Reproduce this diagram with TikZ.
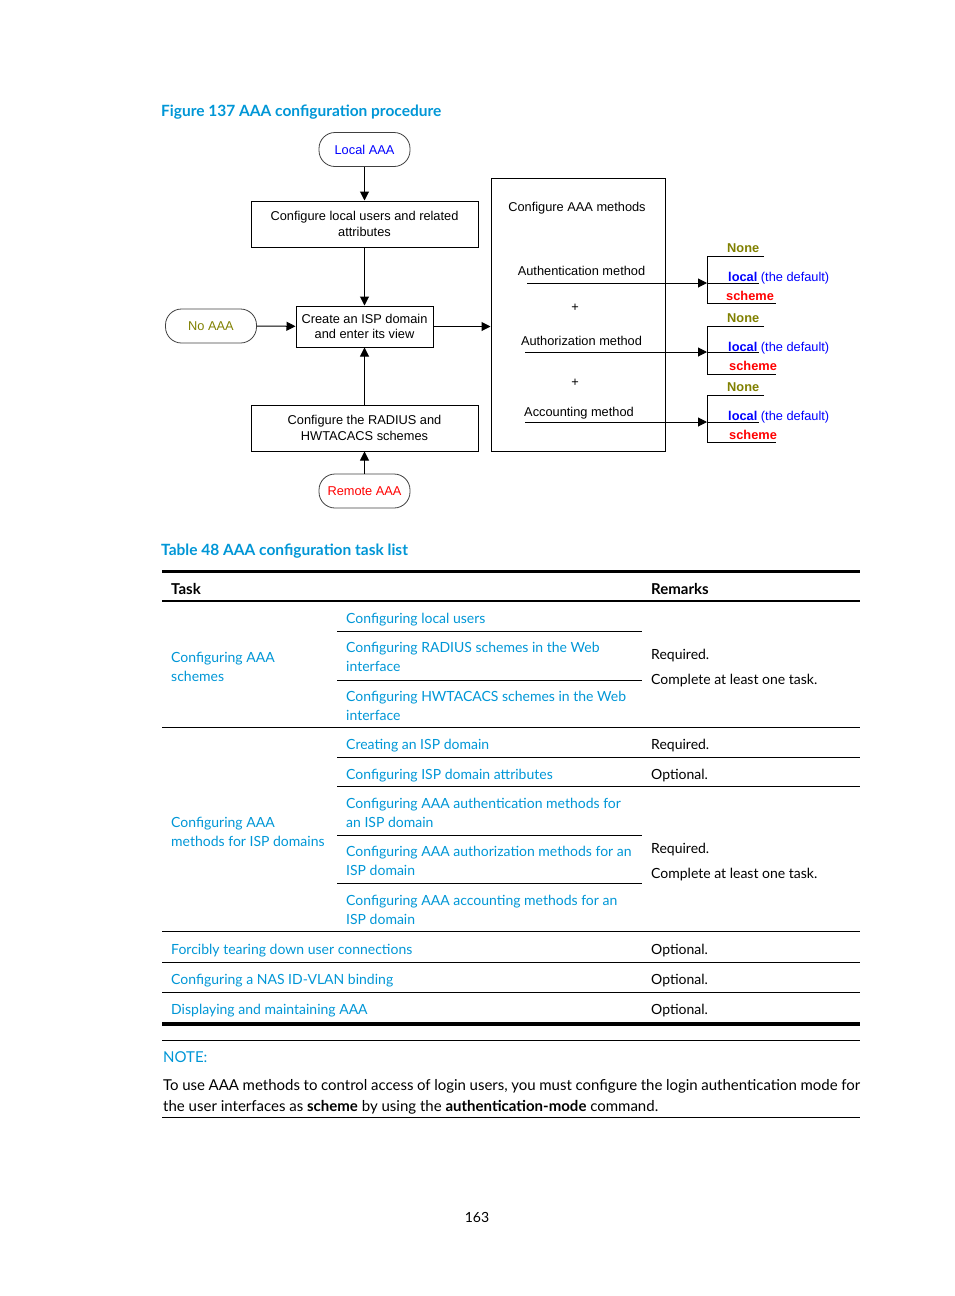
\documentclass[tikz,border=0pt]{standalone}
\usepackage{fontspec}
\setmainfont{Liberation Sans}
\newfontfamily\tblfam{Lato}
\usetikzlibrary{arrows.meta}
\definecolor{hpblue}{RGB}{0,150,214}
\definecolor{dblue}{RGB}{0,0,255}
\definecolor{dolive}{RGB}{128,128,0}
\definecolor{dred}{RGB}{255,0,0}
\newcommand\dgfont{\fontsize{12.8}{15.5}\selectfont}
\newcommand\dgfontb{\fontsize{12.8}{15}\selectfont}
\newcommand\tbfont{\tblfam\fontsize{14}{19}\selectfont}
\newcommand\hdfont{\tblfam\bfseries\fontsize{15}{19}\selectfont}
\newcommand\ttlfont{\tblfam\bfseries\fontsize{15.5}{19}\selectfont}
\newcommand\ntfont{\tblfam\fontsize{15}{19}\selectfont}
\begin{document}
\begin{tikzpicture}[x=1pt,y=-1pt,
  arr/.style={-{Triangle[length=9pt,width=9pt]}, line width=1pt},
  box/.style={draw, line width=1pt, inner sep=0pt, align=center, font=\dgfont},
  term/.style={draw=black!75, line width=0.8pt, rounded corners=16pt, inner sep=0pt, minimum width=91pt, minimum height=34pt, font=\dgfont},
  dtxt/.style={anchor=base, inner sep=0pt, font=\dgfont},
  opt/.style={anchor=base west, inner sep=0pt, font=\dgfont\bfseries},
  tt/.style={anchor=base west, inner sep=0pt, font=\tbfont, text=hpblue},
  tr/.style={anchor=base west, inner sep=0pt, font=\tbfont, text=black},
  rule/.style={line width=1.2pt},
  thin/.style={line width=0.9pt}]
\useasboundingbox (0,0) rectangle (954,1296);

% ---------- Figure title
\node[anchor=base west, inner sep=0pt, font=\ttlfont, text=hpblue] (ftitle) at (161,116) {Figure 137 AAA configuration procedure};

% ---------- left flow
\node[term, text=dblue] (local) at (364.5,149.5) {Local AAA};
\node[box, minimum width=227pt, minimum height=46pt] (cfglocal) at (364.5,224) {Configure local users and related\\attributes};
\node[box, minimum width=137pt, minimum height=41pt, font=\dgfontb] (isp) at (364.5,326.5) {Create an ISP domain\\and enter its view};
\node[term, text=dolive] (noaaa) at (211,326) {No AAA};
\node[box, minimum width=227pt, minimum height=46pt] (radius) at (364.5,428) {Configure the RADIUS and\\HWTACACS schemes};
\node[term, text=dred] (remote) at (364.5,491) {Remote AAA};

\draw[arr] (local) -- (cfglocal);
\draw[arr] (cfglocal) -- (isp);
\draw[arr] (noaaa) -- (isp);
\draw[arr] (remote) -- (radius);
\draw[arr] (radius) -- (isp);

% ---------- methods box
\node[draw, line width=1pt, minimum width=174pt, minimum height=273pt, inner sep=0pt] (methods) at (578,314.5) {};
\draw[arr] (isp.east) -- (isp.east -| methods.west);

\node[dtxt] (mtitle) at (577,211) {Configure AAA methods};
\node[dtxt] (authn) at (581.5,275.5) {Authentication method};
\node[dtxt] (plus1) at (575,311) {+};
\node[dtxt] (authz) at (581.5,345.5) {Authorization method};
\node[dtxt] (plus2) at (575,386) {+};
\node[dtxt] (acct) at (579,416) {Accounting method};

\coordinate (a1s) at (527,283);
\coordinate (a1e) at (707,283);
\coordinate (a2s) at (525,352);
\coordinate (a2e) at (707,352);
\coordinate (a3s) at (525,422);
\coordinate (a3e) at (707,422);
\draw[arr] (a1s) -- (a1e);
\draw[arr] (a2s) -- (a2e);
\draw[arr] (a3s) -- (a3e);

% brackets
\draw[line width=1pt] (764,256) -- (707,256) -- (707,303) -- (776,303);
\draw[line width=1pt] (a1e) -- (759,283);
\draw[line width=1pt] (764,326) -- (707,326) -- (707,374) -- (776,374);
\draw[line width=1pt] (a2e) -- (759,352);
\draw[line width=1pt] (764,395) -- (707,395) -- (707,442) -- (776,442);
\draw[line width=1pt] (a3e) -- (759,422);

\node[opt, text=dolive] (n1) at (727,252.8) {None};
\node[opt, text=dblue] (l1) at (728,281.8) {local \mdseries(the default)};
\node[opt, text=dred] (s1) at (726,300.5) {scheme};
\node[opt, text=dolive] (n2) at (727,322.8) {None};
\node[opt, text=dblue] (l2) at (728,351.5) {local \mdseries(the default)};
\node[opt, text=dred] (s2) at (729,370.5) {scheme};
\node[opt, text=dolive] (n3) at (727,391.8) {None};
\node[opt, text=dblue] (l3) at (728,420.5) {local \mdseries(the default)};
\node[opt, text=dred] (s3) at (729,439.5) {scheme};

% ---------- Table
\node[anchor=base west, inner sep=0pt, font=\ttlfont, text=hpblue] (ttitle) at (161,555.5) {Table 48 AAA configuration task list};
\draw[line width=3pt] (162,571.5) -- (860,571.5);
\node[tr, font=\hdfont] (htask) at (171,594.5) {Task};
\node[tr, font=\hdfont] (hrem) at (651,594.5) {Remarks};
\draw[rule] (162,601) -- (860,601);

\node[tt] at (346,623) {Configuring local users};
\draw[thin] (337,631.5) -- (642,631.5);
\node[tt] at (346,652) {Configuring RADIUS schemes in the Web};
\node[tt] at (346,671) {interface};
\draw[thin] (337,680) -- (642,680);
\node[tt] at (346,701) {Configuring HWTACACS schemes in the Web};
\node[tt] at (346,720) {interface};
\node[tt] at (171,662) {Configuring AAA};
\node[tt] at (171,681) {schemes};
\node[tr] at (651,659) {Required.};
\node[tr] at (651,684) {Complete at least one task.};
\draw[rule] (162,727.5) -- (860,727.5);

\node[tt] at (346,749) {Creating an ISP domain};
\node[tr] at (651,749) {Required.};
\draw[thin] (337,757.5) -- (860,757.5);
\node[tt] at (346,779) {Configuring ISP domain attributes};
\node[tr] at (651,779) {Optional.};
\draw[thin] (337,786.5) -- (860,786.5);
\node[tt] at (346,808) {Configuring AAA authentication methods for};
\node[tt] at (346,827) {an ISP domain};
\draw[thin] (337,835.5) -- (642,835.5);
\node[tt] at (346,856) {Configuring AAA authorization methods for an};
\node[tt] at (346,875) {ISP domain};
\draw[thin] (337,883.5) -- (642,883.5);
\node[tt] at (346,905) {Configuring AAA accounting methods for an};
\node[tt] at (346,924) {ISP domain};
\node[tt] at (171,827) {Configuring AAA};
\node[tt] at (171,846) {methods for ISP domains};
\node[tr] at (651,853) {Required.};
\node[tr] at (651,878) {Complete at least one task.};
\draw[rule] (162,931.5) -- (860,931.5);

\node[tt] at (171,954) {Forcibly tearing down user connections};
\node[tr] at (651,954) {Optional.};
\draw[rule] (162,962.5) -- (860,962.5);
\node[tt] at (171,984) {Configuring a NAS ID-VLAN binding};
\node[tr] at (651,984) {Optional.};
\draw[rule] (162,992.5) -- (860,992.5);
\node[tt] at (171,1014) {Displaying and maintaining AAA};
\node[tr] at (651,1014) {Optional.};
\draw[line width=4pt] (162,1024) -- (860,1024);

% ---------- Note
\draw[thin] (162,1040.5) -- (860,1040.5);
\node[tt, font=\ntfont] (note) at (163,1062) {NOTE:};
\node[tr, font=\ntfont] (nl1) at (163,1090.5) {\makebox[697pt][s]{To use AAA methods to control access of login users, you must configure the login authentication mode for}};
\node[tr, font=\ntfont] (nl2) at (163,1111.5) {the user interfaces as \textbf{scheme} by using the \textbf{authentication-mode} command.};
\draw[thin] (162,1117.5) -- (860,1117.5);

% ---------- page number
\node[anchor=base, inner sep=0pt, font=\tbfont, text=black] (pg) at (477,1222) {163};
\end{tikzpicture}
\end{document}
